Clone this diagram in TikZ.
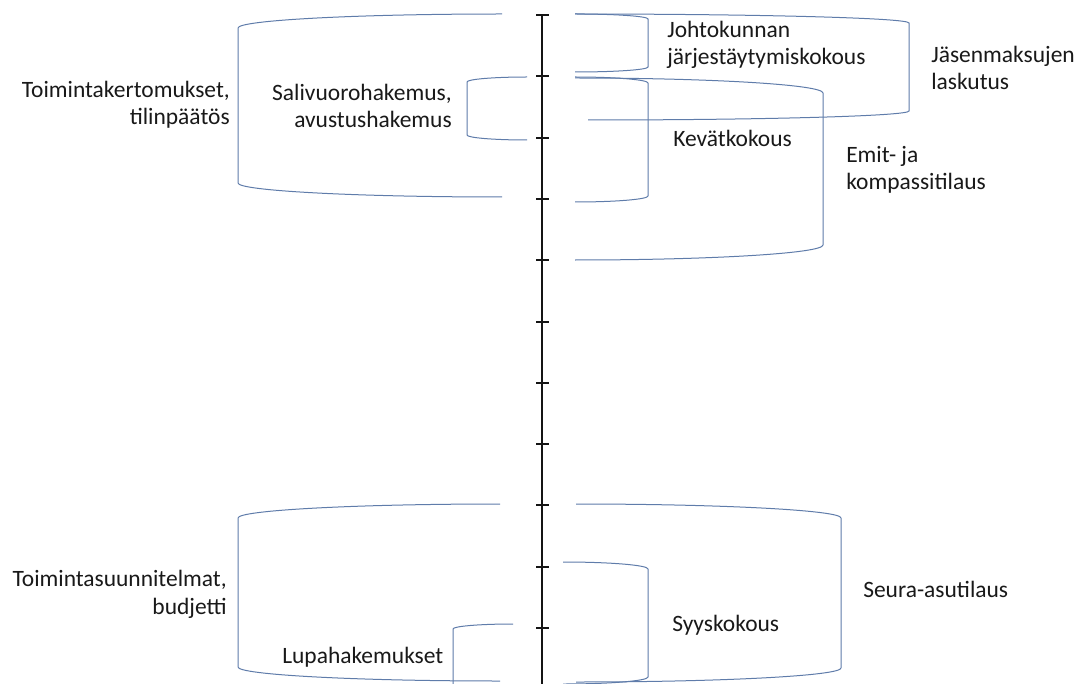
\documentclass[tikz,border=0pt]{standalone}
\usepackage{fontspec}
\setmainfont{Carlito}
\definecolor{bcol}{RGB}{95,124,170}
\definecolor{axcol}{RGB}{20,20,20}
\newcommand\drawbracket[6]{%
  \draw[brk] (#2,#4) .. controls ({#2-0.5523*(#2-#1)},#4) and (#1,{#4+0.4477*#6}) .. (#1,{#4+#6})
    -- (#1,{#5-#6}) .. controls (#1,{#5-0.4477*#6}) and ({#3-0.5523*(#3-#1)},#5) .. (#3,#5);}
\begin{document}
\begin{tikzpicture}[x=0.75pt,y=-0.75pt,
  brk/.style={draw=bcol,line width=0.75pt},
  axisline/.style={draw=axcol,line width=1.5pt},
  tickmark/.style={draw=axcol,line width=1.5pt},
  lbl/.style={inner sep=0pt,font=\fontsize{17.6pt}{20.4pt}\selectfont,text=black!90}]
\useasboundingbox (0,0) rectangle (1084,684);
\clip (0,0) rectangle (1084,684);
\fill[white] (0,0) rectangle (1084,684);
% axis
\coordinate (axtop) at (542,15);
\coordinate (axbot) at (542,700);
\draw[axisline] (axtop) -- (axbot);
\foreach \k in {0,...,10}{
  \draw[tickmark] (536,{15+61.3*\k}) -- (549,{15+61.3*\k});
}
% left brackets
\drawbracket{238}{502}{502}{14}{197}{14}
\drawbracket{467}{527}{527}{77}{140}{5}
\drawbracket{238}{500}{500}{504}{681}{14}
\drawbracket{453}{513}{513}{624}{700}{5}
% right brackets
\drawbracket{648}{575}{575}{14}{72}{5}
\drawbracket{909}{575}{588}{14}{120}{9}
\drawbracket{648}{575}{575}{77}{202}{6}
\drawbracket{823}{575}{575}{78}{260}{15}
\drawbracket{841}{576}{576}{504}{682}{14}
\drawbracket{648}{563}{563}{562}{684}{7}
% labels (base anchor = last line's baseline)
\node[lbl,anchor=base east,align=right] (tk) at (230,125) {Toimintakertomukset,\\tilinpäätös};
\node[lbl,anchor=base east,align=right] (sv) at (452,128) {Salivuorohakemus,\\avustushakemus};
\node[lbl,anchor=base west,align=left] (jk) at (667,65) {Johtokunnan\\järjestäytymiskokous};
\node[lbl,anchor=base west,align=left] (jm) at (931,90) {Jäsenmaksujen\\laskutus};
\node[lbl,anchor=base west] (kk) at (673,147) {Kevätkokous};
\node[lbl,anchor=base west,align=left] (ek) at (846,190) {Emit- ja\\kompassitilaus};
\node[lbl,anchor=base east,align=right] (ts) at (227,614) {Toimintasuunnitelmat,\\budjetti};
\node[lbl,anchor=base west] (lh) at (282,663) {Lupahakemukset};
\node[lbl,anchor=base west] (sk) at (672,631) {Syyskokous};
\node[lbl,anchor=base west] (sa) at (863,597) {Seura-asutilaus};
\end{tikzpicture}
\end{document}
